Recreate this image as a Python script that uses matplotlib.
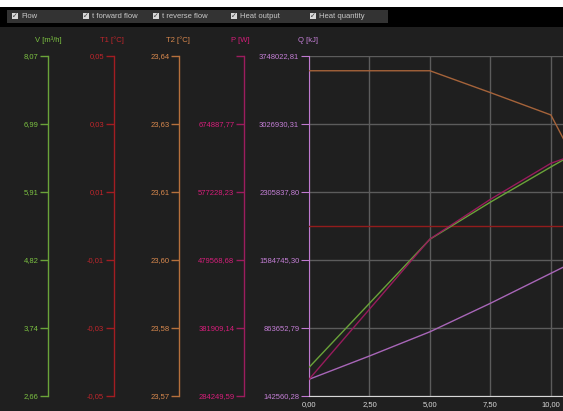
import numpy as np
import matplotlib.pyplot as plt
from matplotlib.patches import Rectangle

# Размер картинки в пикселях
W, H = 563, 411

# Ось времени
time = [0, 2.5, 5, 7.5, 10, 11]
x_ticks = [0, 2.5, 5, 7.5, 10]
x_tick_labels = ["0,00", "2,50", "5,00", "7,50", "10,00"]

# Значения серий
flow = [3.11, 4.13, 5.15, 5.74, 6.30, 6.52]
t_forward = [0.0, 0.0, 0.0, 0.0, 0.0, 0.0]
t_reverse = [23.6369, 23.6369, 23.6369, 23.6324, 23.6278, 23.6183]
heat_output = [307700, 408500, 509300, 566300, 618000, 630400]
heat_quantity = [316400, 563600, 820400, 1122500, 1440500, 1567700]

# Подписи шкал
flow_labels = ["2,66", "3,74", "4,82", "5,91", "6,99", "8,07"]
t_forward_labels = ["-0,05", "-0,03", "-0,01", "0,01", "0,03", "0,05"]
t_reverse_labels = ["23,57", "23,58", "23,60", "23,61", "23,63", "23,64"]
heat_output_labels = ["284249,59", "381909,14", "479568,68", "577228,23", "674887,77", ""]
heat_quantity_labels = ["142560,28", "863652,79", "1584745,30", "2305837,80",
                        "3026930,31", "3748022,81"]

# Границы шкал
flow_lim = (2.66, 8.07)
t_forward_lim = (-0.05, 0.05)
t_reverse_lim = (23.57, 23.64)
heat_output_lim = (284249.59, 772547.29)
heat_quantity_lim = (142560.28, 3748022.81)

legend_items = ["Flow", "t forward flow", "t reverse flow", "Heat output", "Heat quantity"]

bg = "#1f1f1f"
plt.rcParams["font.family"] = ["Liberation Sans", "DejaVu Sans"]
fs = 5.5

fig = plt.figure(figsize=(W / 100, H / 100), dpi=100, facecolor=bg)

def fx(px):
    return px / W

def fy(py):
    return 1 - py / H

# Верхняя панель с флажками
fig.patches.append(Rectangle((0, fy(7)), 1, 7 / H, transform=fig.transFigure,
                             facecolor="white", edgecolor="none"))
fig.patches.append(Rectangle((0, fy(27)), 1, 20 / H, transform=fig.transFigure,
                             facecolor="black", edgecolor="none"))
fig.patches.append(Rectangle((fx(7), fy(23)), fx(381), 13 / H, transform=fig.transFigure,
                             facecolor="#333333", edgecolor="none"))
box_x = [12, 83, 153, 231, 310]
for bx, name in zip(box_x, legend_items):
    fig.patches.append(Rectangle((fx(bx), fy(19)), fx(6), 6 / H, transform=fig.transFigure,
                                 facecolor="#d8d8d8", edgecolor="none"))
    fig.text(fx(bx + 3), fy(16), "✓", color="#333333", fontsize=5,
             ha="center", va="center", family=["DejaVu Sans"])
    fig.text(fx(bx + 9), fy(16), name, color="#c8c8c8", fontsize=fs, va="center")

# Основная область графика
left, top, bottom, right = 309, 55.7, 395.7, 563
ax = fig.add_axes([fx(left), fy(bottom), fx(right - left), (bottom - top) / H])
ax.set_facecolor(bg)
ax.set_xlim(0, 10.5)
ax.set_ylim(*heat_quantity_lim)
ax.set_xticks(x_ticks)
ax.set_xticklabels(x_tick_labels)
ax.set_yticks(np.linspace(*heat_quantity_lim, 6))
ax.set_yticklabels(heat_quantity_labels)
ax.grid(True, color="#5c5c5c", linewidth=1)
ax.set_axisbelow(True)
for s in ["top", "right"]:
    ax.spines[s].set_visible(False)
ax.spines["bottom"].set_color("#d8d8d8")
ax.spines["left"].set_color("#c07ad0")
ax.tick_params(axis="x", colors="#d8d8d8", labelsize=fs, length=0, pad=4)
ax.tick_params(axis="y", colors="#c07ad0", labelcolor="#c47fd6", labelsize=fs, length=6, pad=1)
ax.plot(time, heat_quantity, color="#a866b8", linewidth=1)

# Дополнительные шкалы слева
def extra_axis(values, lim, labels, offset, spine_color, text_color, line_color):
    a = ax.twinx()
    a.set_ylim(*lim)
    a.yaxis.set_ticks_position("left")
    a.yaxis.set_label_position("left")
    for s in ["top", "right", "bottom"]:
        a.spines[s].set_visible(False)
    a.spines["left"].set_position(("axes", offset))
    a.spines["left"].set_color(spine_color)
    a.spines["left"].set_linewidth(1)
    a.set_yticks(np.linspace(*lim, 6))
    a.set_yticklabels(labels)
    a.tick_params(axis="y", colors=spine_color, labelcolor=text_color,
                  labelsize=fs, length=6, width=1, pad=1)
    a.patch.set_visible(False)
    a.plot(time, values, color=line_color, linewidth=1)
    return a

scale = right - left
extra_axis(t_reverse, t_reverse_lim, t_reverse_labels, (179 - left) / scale,
           "#b5703c", "#d9894e", "#a5633a")
extra_axis(t_forward, t_forward_lim, t_forward_labels, (114 - left) / scale,
           "#a31d22", "#c0262c", "#931c1c")
extra_axis(flow, flow_lim, flow_labels, (48 - left) / scale,
           "#6aa339", "#7cc242", "#6aa339")
extra_axis(heat_output, heat_output_lim, heat_output_labels, (244 - left) / scale,
           "#9c1d5e", "#d61e7a", "#981b5c")

# Заголовки шкал
titles = ["V [m³/h]", "T1 [°C]", "T2 [°C]", "P [W]", "Q [kJ]"]
title_x = [48, 112, 178, 240, 308]
title_colors = ["#7cc242", "#c0262c", "#d9894e", "#d61e7a", "#c47fd6"]
for t, tx, c in zip(titles, title_x, title_colors):
    fig.text(fx(tx), fy(40), t, color=c, fontsize=fs, ha="center", va="center")

plt.savefig("out.png", dpi=100, facecolor=bg)
